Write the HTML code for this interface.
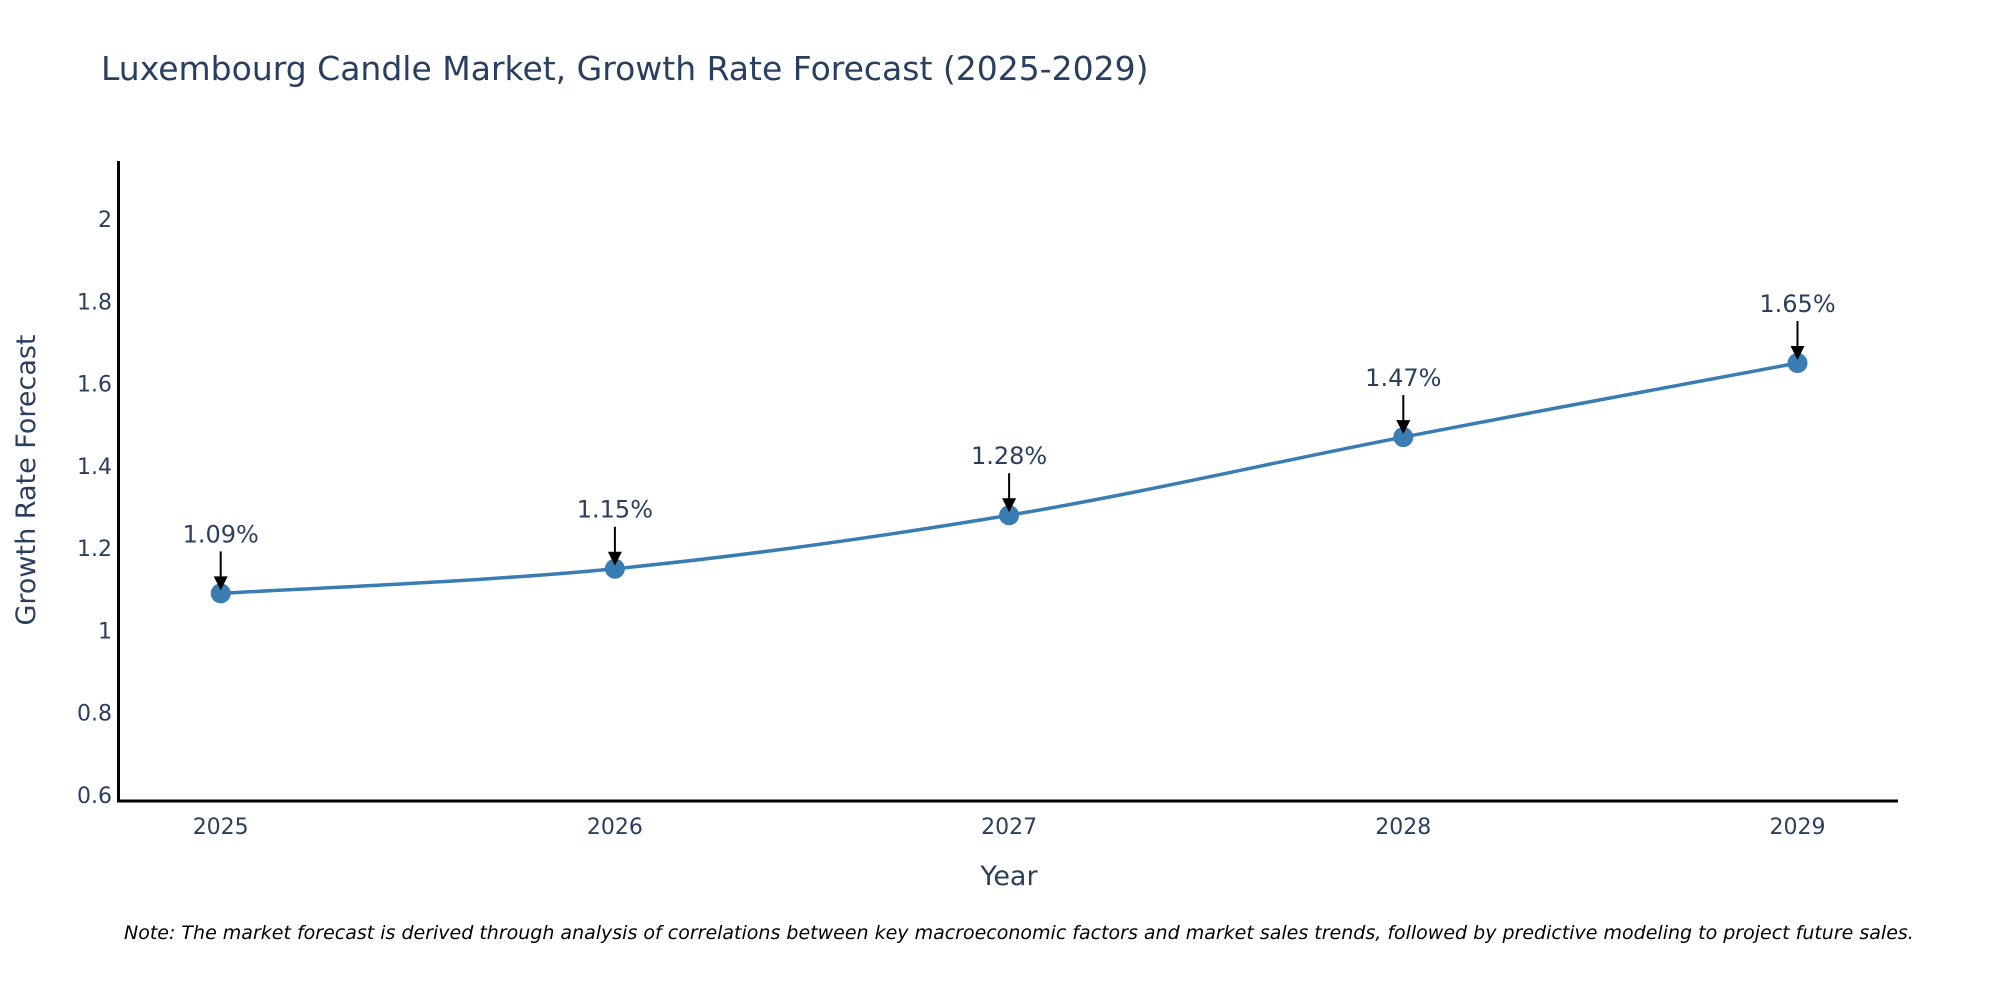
<!DOCTYPE html>
<html><head><meta charset="utf-8"><style>
body{margin:0;background:#fff;}
svg{display:block;font-family:"DejaVu Sans","Liberation Sans",sans-serif;}
</style></head><body>
<svg id="chart" width="2000" height="1000">
<text x="101" y="80" font-size="33" fill="#2a3f5f">Luxembourg Candle Market, Growth Rate Forecast (2025-2029)</text>
<g id="yticks"></g>
<g id="xticks"></g>
<g id="series"></g>
<g id="annots"></g>
<line x1="118.5" y1="161" x2="118.5" y2="802" stroke="#000" stroke-width="3"/>
<line x1="117" y1="801" x2="1898" y2="801" stroke="#000" stroke-width="3"/>
<text x="1009" y="885" font-size="27" fill="#2a3f5f" text-anchor="middle">Year</text>
<text transform="translate(35,480) rotate(-90)" font-size="27" fill="#2a3f5f" text-anchor="middle">Growth Rate Forecast</text>
<text x="124" y="939" font-size="19" font-style="italic" fill="#000">Note: The market forecast is derived through analysis of correlations between key macroeconomic factors and market sales trends, followed by predictive modeling to project future sales.</text>
</svg>
<script>
const years=[2025,2026,2027,2028,2029];
const values=[1.09,1.15,1.28,1.47,1.65];
const labels=["1.09%","1.15%","1.28%","1.47%","1.65%"];
const yTicks=[0.6,0.8,1,1.2,1.4,1.6,1.8,2];
const yTickLabels=["0.6","0.8","1","1.2","1.4","1.6","1.8","2"];
const NS="http://www.w3.org/2000/svg";
const X=v=>220.7+(v-2025)*394.2;
const Y=v=>795-(v-0.6)*411.4;
function mk(t,a,p){const e=document.createElementNS(NS,t);for(const k in a)e.setAttribute(k,a[k]);p.appendChild(e);return e;}
const yt=document.getElementById('yticks');
yTicks.forEach((v,i)=>{const t=mk('text',{x:112,y:Y(v)+8,'font-size':22,fill:'#2a3f5f','text-anchor':'end'},yt);t.textContent=yTickLabels[i];

});
const xt=document.getElementById('xticks');
years.forEach(v=>{const t=mk('text',{x:X(v),y:834,'font-size':22,fill:'#2a3f5f','text-anchor':'middle'},xt);t.textContent=v;

});
const pts=years.map((y,i)=>[X(y),Y(values[i])]);
let d=`M${pts[0][0]},${pts[0][1]}`;
for(let i=0;i<pts.length-1;i++){const p0=pts[Math.max(0,i-1)],p1=pts[i],p2=pts[i+1],p3=pts[Math.min(pts.length-1,i+2)];const s=6;
d+=` C${p1[0]+(p2[0]-p0[0])/s},${p1[1]+(p2[1]-p0[1])/s} ${p2[0]-(p3[0]-p1[0])/s},${p2[1]-(p3[1]-p1[1])/s} ${p2[0]},${p2[1]}`;}
const sg=document.getElementById('series');
const line=mk('path',{d:d,fill:'none',stroke:'#3a7db3','stroke-width':3.5},sg);


pts.forEach(p=>{const c=mk('circle',{cx:p[0],cy:p[1],r:10,fill:'#3a7db3'},sg);

});
const ag=document.getElementById('annots');
pts.forEach((p,i)=>{
const l=mk('line',{x1:p[0],y1:p[1]-42,x2:p[0],y2:p[1]-16,stroke:'#000','stroke-width':2},ag);


const h=mk('path',{d:`M${p[0]-7},${p[1]-17} L${p[0]+7},${p[1]-17} L${p[0]},${p[1]-3} Z`,fill:'#000'},ag);


const t=mk('text',{x:p[0],y:p[1]-51,'font-size':24,fill:'#2a3f5f','text-anchor':'middle'},ag);t.textContent=labels[i];

});
</script>
</body></html>
